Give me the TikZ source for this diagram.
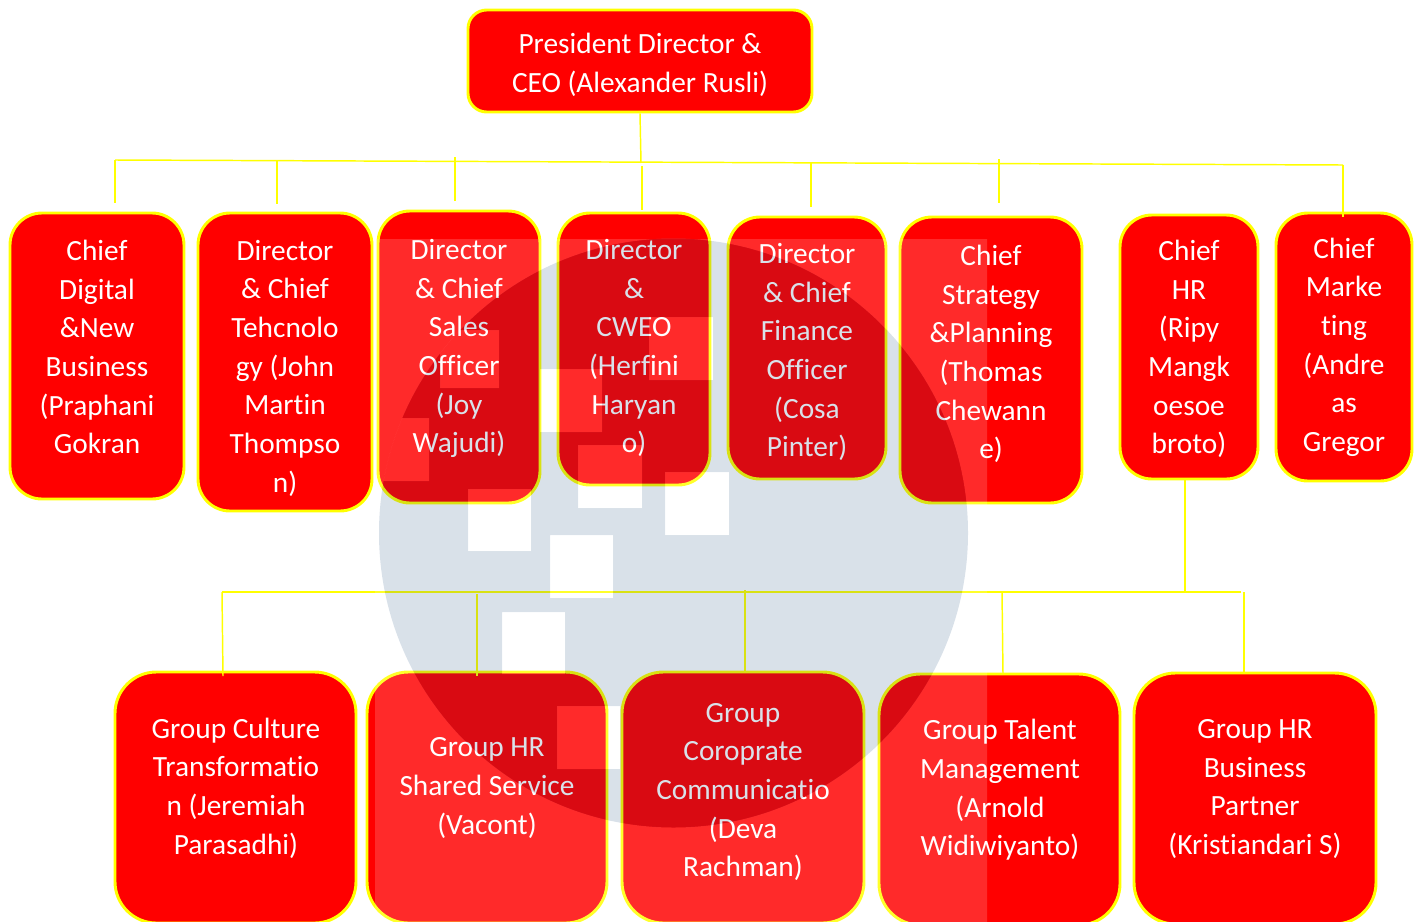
\documentclass[tikz,border=0pt]{standalone}
\usepackage{fontspec}
\setmainfont[RawFeature=-liga]{Carlito}
\definecolor{lineyellow}{RGB}{255,255,0}
\definecolor{boxred}{RGB}{255,0,0}
\definecolor{logoblue}{RGB}{13,64,115}
\tikzset{
    orgbox/.style={draw=lineyellow, fill=boxred, line width=2.2pt, rounded corners=24pt, inner sep=0pt},
    topbox/.style={orgbox, rounded corners=14pt},
    lowbox/.style={orgbox, rounded corners=31pt},
    orgtext/.style={text=white, align=center, inner sep=0pt, font=\fontsize{22}{29}\selectfont},
    link/.style={lineyellow, line width=1.1pt}
}
\begin{document}
\begin{tikzpicture}[x=0.75pt, y=-0.75pt]
    \pgfmathsetmacro{\px}{0.75}  % one reference pixel, in points
    \useasboundingbox (0,0) rectangle (1420,921);

    % Boxes
    \node[topbox, minimum width=344*\px pt, minimum height=102*\px pt] (ceo) at (640,61) {};
    \node[orgbox, minimum width=174*\px pt, minimum height=286*\px pt] (digital) at (97,356) {};
    \node[orgbox, minimum width=174*\px pt, minimum height=298*\px pt] (techno) at (285,362) {};
    \node[orgbox, minimum width=162*\px pt, minimum height=292*\px pt] (sales) at (459,357) {};
    \node[orgbox, minimum width=152*\px pt, minimum height=272*\px pt] (cweo) at (634,349) {};
    \node[orgbox, minimum width=158*\px pt, minimum height=262*\px pt] (finance) at (807,348) {};
    \node[orgbox, minimum width=182*\px pt, minimum height=286*\px pt] (strategy) at (991,360) {};
    \node[orgbox, minimum width=138*\px pt, minimum height=264*\px pt] (hr) at (1189,347) {};
    \node[orgbox, minimum width=136*\px pt, minimum height=268*\px pt] (marketing) at (1344,347) {};
    \node[lowbox, minimum width=241*\px pt, minimum height=251*\px pt] (culture) at (235.5,797.5) {};
    \node[lowbox, minimum width=240*\px pt, minimum height=251*\px pt] (shared) at (487,797.5) {};
    \node[lowbox, minimum width=242*\px pt, minimum height=251*\px pt] (comms) at (743,797.5) {};
    \node[lowbox, minimum width=241*\px pt, minimum height=251*\px pt] (talent) at (999.5,799.5) {};
    \node[lowbox, minimum width=242*\px pt, minimum height=251*\px pt] (partner) at (1255,798.5) {};

    % Labels
    \node[orgtext] (ceotext) at (640,65) {President Director \&\\CEO (Alexander Rusli)};
    \node[orgtext] (digitaltext) at (97,347) {Chief\\Digital\\\&New\\Business\\(Praphani\\Gokran};
    \node[orgtext] (technotext) at (285,368) {Director\\\& Chief\\Tehcnolo\\gy (John\\Martin\\Thompso\\n)};
    \node[orgtext] (salestext) at (459,348.5) {Director\\\& Chief\\Sales\\Officer\\(Joy\\Wajudi)};
    \node[orgtext] (cweotext) at (634,348) {Director\\\&\\CWEO\\(Herfini\\Haryan\\o)};
    \node[orgtext] (financetext) at (807,352) {Director\\\& Chief\\Finance\\Officer\\(Cosa\\Pinter)};
    \node[orgtext] (strategytext) at (991,354) {Chief\\Strategy\\\&Planning\\(Thomas\\Chewann\\e)};
    \node[orgtext] (hrtext) at (1189,349) {Chief\\HR\\(Ripy\\Mangk\\oesoe\\broto)};
    \node[orgtext] (marketingtext) at (1344,347) {Chief\\Marke\\ting\\(Andre\\as\\Gregor};
    \node[orgtext] (culturetext) at (236,788) {Group Culture\\Transformatio\\n (Jeremiah\\Parasadhi)};
    \node[orgtext] (sharedtext) at (487,788) {Group HR\\Shared Service\\(Vacont)};
    \node[orgtext] (commstext) at (743,792) {Group\\Coroprate\\Communicatio\\(Deva\\Rachman)};
    \node[orgtext] (talenttext) at (1000,790) {Group Talent\\Management\\(Arnold\\Widiwiyanto)};
    \node[orgtext] (partnertext) at (1255,789) {Group HR\\Business\\Partner\\(Kristiandari S)};

    % Connectors, top bar
    \coordinate (barL) at (115,160);
    \coordinate (barR) at (1343,165);
    \coordinate (barM) at (641,163);
    \coordinate (dropA) at (115,203);
    \coordinate (dropBt) at (277,161);
    \coordinate (dropB) at (277,204);
    \coordinate (dropCt) at (455,157);
    \coordinate (dropC) at (455,201);
    \coordinate (dropDt) at (642,166);
    \coordinate (dropD) at (642,210);
    \coordinate (dropEt) at (811,163);
    \coordinate (dropE) at (811,207);
    \coordinate (dropFt) at (999,159);
    \coordinate (dropF) at (999,203);
    \coordinate (dropH) at (1343,217);
    \draw[link] (ceo.south) -- (barM);
    \draw[link] (barL) -- (barR);
    \draw[link] (barL) -- (dropA);
    \draw[link] (dropBt) -- (dropB);
    \draw[link] (dropCt) -- (dropC);
    \draw[link] (dropDt) -- (dropD);
    \draw[link] (dropEt) -- (dropE);
    \draw[link] (dropFt) -- (dropF);
    \draw[link] (barR) -- (dropH);

    % Connectors, lower bar
    \coordinate (hrfoot) at (1185,592);
    \coordinate (lowL) at (222,592);
    \coordinate (lowR) at (1241,592);
    \coordinate (lowA) at (223,676);
    \coordinate (lowBt) at (477,594);
    \coordinate (lowB) at (477,676);
    \coordinate (lowCt) at (745,590);
    \coordinate (lowC) at (745,671);
    \coordinate (lowDt) at (1002,592);
    \coordinate (lowD) at (1003,674);
    \coordinate (lowEt) at (1244,592);
    \coordinate (lowE) at (1244,672);
    \draw[link] (hr.south -| hrfoot) -- (hrfoot);
    \draw[link] (lowL) -- (lowR);
    \draw[link] (lowL) -- (lowA);
    \draw[link] (lowBt) -- (lowB);
    \draw[link] (lowCt) -- (lowC);
    \draw[link] (lowDt) -- (lowD);
    \draw[link] (lowEt) -- (lowE);

    % Watermark over everything: white veil, blue disc, white squares
    \coordinate (disc) at (673.5,533);
    \def\logosquares{
        (468,489) rectangle (531,551) (550,535) rectangle (613,598)
        (502,612) rectangle (565,674) (557,706) rectangle (620,769)
        (578,445) rectangle (642,508) (665,472) rectangle (729,535)
        (540,369) rectangle (602,432) (649,317) rectangle (713,380)
        (440,330) rectangle (499,388) (366,418) rectangle (429,481)}
    \fill[white, opacity=0.165, even odd rule] (375,239) rectangle (987,950) (disc) circle (294.5);
    \begin{scope}
        \clip (disc) circle (294.5);
        \fill[logoblue, opacity=0.157, even odd rule] (370,230) rectangle (990,840) \logosquares;
        \fill[white, opacity=0.165] \logosquares;
    \end{scope}
\end{tikzpicture}
\end{document}
